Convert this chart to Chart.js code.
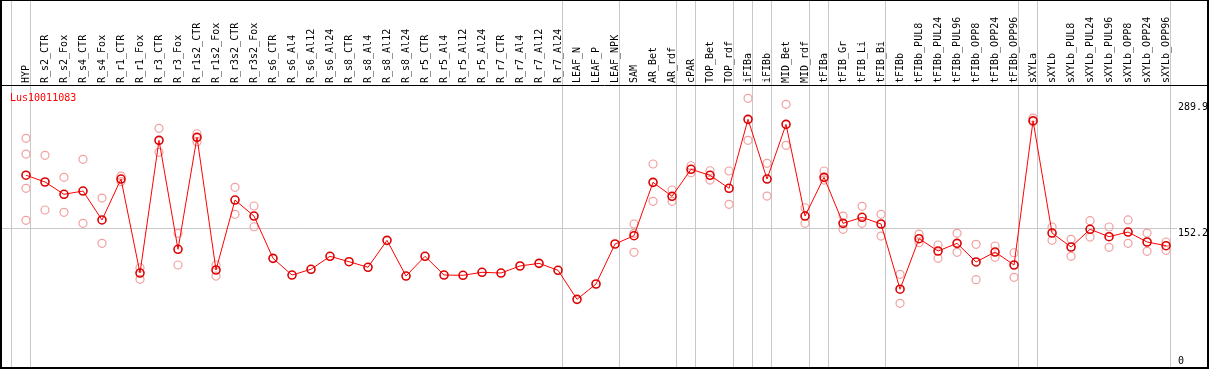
<!DOCTYPE html>
<html>
<head>
<meta charset="utf-8">
<script src="https://cdn.jsdelivr.net/npm/chart.js@4"></script>
<style>
html, body { margin: 0; padding: 0; background: #fff; }
</style>
</head>
<body>
<canvas id="myChart" width="1209" height="370"></canvas>
<script>
const geneName = 'Lus10011083';

const samples = ['HYP',
    'R_s2_CTR', 'R_s2_Fox', 'R_s4_CTR', 'R_s4_Fox', 'R_r1_CTR', 'R_r1_Fox', 'R_r3_CTR', 'R_r3_Fox',
    'R_r1s2_CTR', 'R_r1s2_Fox', 'R_r3s2_CTR', 'R_r3s2_Fox',
    'R_s6_CTR', 'R_s6_Al4', 'R_s6_Al12', 'R_s6_Al24', 'R_s8_CTR', 'R_s8_Al4', 'R_s8_Al12', 'R_s8_Al24',
    'R_r5_CTR', 'R_r5_Al4', 'R_r5_Al12', 'R_r5_Al24', 'R_r7_CTR', 'R_r7_Al4', 'R_r7_Al12', 'R_r7_Al24',
    'LEAF_N', 'LEAF_P', 'LEAF_NPK',
    'SAM', 'AR_Bet', 'AR_rdf', 'cPAR', 'TOP_Bet', 'TOP_rdf', 'iFIBa', 'iFIBb', 'MID_Bet', 'MID_rdf',
    'tFIBa', 'tFIB_Gr', 'tFIB_Li', 'tFIB_Bi',
    'tFIBb', 'tFIBb_PUL8', 'tFIBb_PUL24', 'tFIBb_PUL96', 'tFIBb_OPP8', 'tFIBb_OPP24', 'tFIBb_OPP96',
    'sXYLa', 'sXYLb', 'sXYLb_PUL8', 'sXYLb_PUL24', 'sXYLb_PUL96', 'sXYLb_OPP8', 'sXYLb_OPP24', 'sXYLb_OPP96'];

// sample groups, separated by grey lines
const groupSizes = [1, 28, 3, 3, 1, 2, 1, 1, 2, 1, 3, 7, 1, 7];

const means = [210, 202.6, 189.1, 192.7, 161.0, 205.8, 102.9, 248.2, 128.9, 251.5, 106.2, 182.8, 165.3,
    119.0, 100.7, 107.0, 121.2, 115.3, 109.2, 138.7, 99.6, 121.2, 100.7, 100.4, 103.7, 102.9, 110.6, 113.5, 105.9,
    74.1, 90.9, 134.7,
    143.8, 202.2, 186.9, 216.5, 209.9, 195.7, 271.2, 205.8, 265.7, 165.3, 207.7, 157.3, 163.9, 156.6,
    85.2, 140.5, 127.0, 135.4, 115.0, 125.9, 111.7,
    269.7, 146.7, 131.4, 150.8, 142.7, 147.8, 136.9, 132.8];

const replicates = [
    [250.4, 233.2, 195.7, 160.6],
    [231.8, 171.9], [207.7, 169.4], [227.4, 157.3], [185.0, 135.4], [209.1, 203.0], [108.7, 96.0],
    [261.4, 235.1], [146.4, 111.7], [255.4, 246.7], [111.7, 99.6], [196.8, 167.2], [176.3, 153.6],
    [], [], [], [], [], [], [], [], [], [], [], [], [], [], [], [],
    [], [], [],
    [156.6, 146.4, 125.6], [222.3, 181.4], [193.8, 181.4], [220.4, 212.7], [214.9, 204.7], [214.6, 178.1],
    [294.2, 248.2], [223.0, 187.2], [287.6, 242.7], [174.4, 157.3], [214.6, 204.7],
    [165.3, 150.8], [175.9, 157.3], [167.2, 143.4],
    [101.5, 69.7], [145.6, 136.1], [133.6, 119.0], [146.4, 125.6], [134.3, 95.6], [132.5, 120.1], [125.1, 98.2],
    [272.6, 268.6],
    [153.3, 138.7], [139.8, 121.2], [160.2, 142.3], [153.3, 131.1], [161.0, 135.4], [146.7, 126.7], [136.9, 127.8]];

const yTicks = [0, 152.2, 289.9];

const monoFont = { family: 'DejaVu Sans Mono', size: 10 };

const meanPoints = means.map((v, i) => ({ x: i, y: v }));
const repPoints = [];
replicates.forEach((list, i) => list.forEach(v => repPoints.push({ x: i, y: v })));

// frame, group separators, title and y labels
const decor = {
    id: 'decor',
    beforeDatasetsDraw(chart) {
        const c = chart.ctx, xs = chart.scales.x, area = chart.chartArea;
        c.save();
        c.strokeStyle = '#c8c8c8';
        c.lineWidth = 1;
        let end = -1;
        const seps = [end];
        groupSizes.forEach(n => { end += n; seps.push(end); });
        seps.forEach(e => {
            const px = Math.round(xs.getPixelForValue(e + 0.21)) + 0.5;
            c.beginPath();
            c.moveTo(px, 0);
            c.lineTo(px, area.bottom + 1);
            c.stroke();
        });
        c.restore();
    },
    afterDraw(chart) {
        const c = chart.ctx, ys = chart.scales.y, area = chart.chartArea;
        c.save();
        c.font = '10px "DejaVu Sans Mono"';
        c.textBaseline = 'middle';
        c.fillStyle = '#ff0000';
        c.textAlign = 'left';
        c.fillText(geneName, 10, area.top + 13);
        yTicks.forEach(v => {
            let py = ys.getPixelForValue(v) + 5;
            py = Math.min(Math.max(py, area.top + 6), area.bottom - 6);
            c.fillStyle = '#fff';
            c.fillRect(1177, py - 6, 30, 12);
            c.fillStyle = '#000';
            c.fillText(String(v), 1178, py);
        });
        c.strokeStyle = '#000';
        c.lineWidth = 2;
        c.strokeRect(1, 0, 1207, area.bottom + 1);
        c.lineWidth = 1;
        c.beginPath();
        c.moveTo(0, area.top + 0.5);
        c.lineTo(1209, area.top + 0.5);
        c.stroke();
        c.restore();
    }
};

const ctx = document.getElementById('myChart').getContext('2d');
const myChart = new Chart(ctx, {
    type: 'line',
    data: {
        datasets: [{
            data: meanPoints,
            borderColor: '#ff0000',
            borderWidth: 1,
            pointRadius: 4,
            pointBorderColor: '#dd0000',
            pointBorderWidth: 1.6,
            pointBackgroundColor: 'rgba(0,0,0,0)',
            tension: 0,
            order: 0
        }, {
            type: 'scatter',
            data: repPoints,
            showLine: false,
            pointRadius: 4,
            pointBorderColor: '#f0a0a0',
            pointBorderWidth: 1.2,
            pointBackgroundColor: 'rgba(0,0,0,0)',
            order: 1
        }]
    },
    options: {
        responsive: false,
        animation: false,
        devicePixelRatio: 1,
        layout: { autoPadding: false, padding: { left: 0, right: 0, top: 0, bottom: 3 } },
        plugins: { legend: { display: false }, tooltip: { enabled: false } },
        scales: {
            x: {
                type: 'linear',
                position: 'top',
                min: -1.368,
                max: 62.26,
                afterBuildTicks: s => { s.ticks = samples.map((_, i) => ({ value: i })); },
                afterFit: s => {
                    s.height = 85;
                    s.paddingLeft = 0;
                    s.paddingRight = 0;
                },
                grid: { display: false, drawTicks: false, tickLength: 0 },
                border: { display: false },
                ticks: {
                    autoSkip: false,
                    minRotation: 90,
                    maxRotation: 90,
                    padding: 2,
                    labelOffset: 12,
                    color: '#000',
                    font: monoFont,
                    callback: v => samples[v]
                }
            },
            y: {
                position: 'right',
                min: 0,
                max: 308.8,
                afterBuildTicks: s => { s.ticks = yTicks.map(v => ({ value: v })); },
                afterFit: s => { s.width = 0; },
                grid: {
                    drawTicks: false,
                    color: c => (c.tick && c.tick.value === 152.2) ? '#c8c8c8' : 'rgba(0,0,0,0)'
                },
                border: { display: false },
                ticks: { display: false }
            }
        }
    },
    plugins: [decor]
});
</script>
</body>
</html>
